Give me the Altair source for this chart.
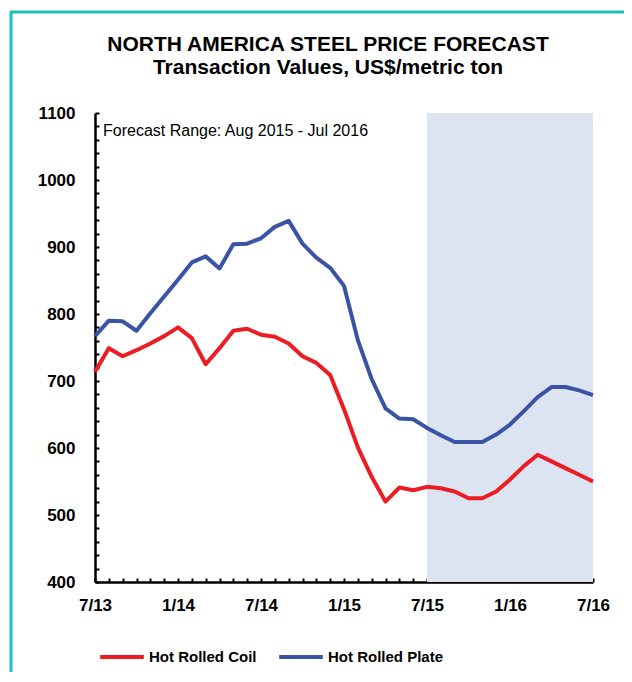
import altair as alt
import pandas as pd
import json

# ---------------- data ----------------
months = list(range(37))  # Jul 2013 .. Jul 2016, monthly index
hot_rolled_coil = [714, 749, 737, 746, 756, 767, 780, 764, 725, 749, 775, 778, 769,
                   766, 756, 737, 727, 709, 658, 601, 557, 520, 541, 537, 542, 540,
                   535, 525, 525, 535, 553, 573, 590, 580, 570, 560, 550]
hot_rolled_plate = [767, 790, 789, 775, 801, 826, 851, 877, 886, 868, 904, 905, 913,
                    930, 939, 905, 884, 869, 842, 761, 703, 659, 644, 643, 630, 619,
                    609, 609, 609, 620, 635, 655, 676, 691, 691, 686, 679]
series_names = ["Hot Rolled Coil", "Hot Rolled Plate"]
tick_labels = ["7/13", "1/14", "7/14", "1/15", "7/15", "1/16", "7/16"]
label_months = [0, 6, 12, 18, 24, 30, 36]
forecast_start, forecast_end = 24, 36
y_ticks = [400, 500, 600, 700, 800, 900, 1000, 1100]
y_minor = list(range(400, 1101, 20))
title_line1 = "NORTH AMERICA STEEL PRICE FORECAST"
title_line2 = "Transaction Values, US$/metric ton"
note_text = "Forecast Range: Aug 2015 - Jul 2016"

# ---------------- styling ----------------
W, H = 498, 469
FONT = "Liberation Sans"
RED, BLUE, SHADE, TEAL = "#ED1C24", "#3A53A4", "#DCE4F1", "#1CC0B8"

df = pd.DataFrame({
    "month": months * 2,
    "value": hot_rolled_coil + hot_rolled_plate,
    "series": [series_names[0]] * len(months) + [series_names[1]] * len(months),
})
fc = pd.DataFrame({"start": [forecast_start], "end": [forecast_end]})

xscale = alt.Scale(domain=[0, 36], nice=False, zero=False)
yscale = alt.Scale(domain=[400, 1100], nice=False, zero=False)

label_expr = json.dumps(tick_labels) + "[round(datum.value/6)]"

shade = alt.Chart(fc).mark_rect(color=SHADE).encode(
    x=alt.X("start:Q", scale=xscale, title=None,
            axis=alt.Axis(orient="bottom", values=label_months, labelExpr=label_expr,
                          ticks=False, domain=True, domainColor="black", domainWidth=2.5,
                          labelFont=FONT, labelFontSize=17, labelFontWeight="bold",
                          labelColor="black", labelPadding=15, labelFlush=False,
                          grid=False)),
    x2="end:Q",
    y=alt.value(0),
    y2=alt.value(H),
)

lines = alt.Chart(df).mark_line(strokeWidth=4, strokeJoin="round").encode(
    x=alt.X("month:Q", scale=xscale, title=None,
            axis=alt.Axis(orient="top", offset=-H, values=months, labels=False,
                          domain=False, ticks=True, tickColor="black", tickWidth=2,
                          tickSize=4, grid=False)),
    y=alt.Y("value:Q", scale=yscale, title=None,
            axis=alt.Axis(orient="left", values=y_ticks, format="d", ticks=False,
                          domain=True, domainColor="black", domainWidth=2.5,
                          labelFont=FONT, labelFontSize=17, labelFontWeight="bold",
                          labelColor="black", labelPadding=20, labelFlush=False,
                          grid=False)),
    color=alt.Color("series:N", title=None,
                    scale=alt.Scale(domain=series_names, range=[RED, BLUE]),
                    legend=alt.Legend(orient="none", direction="horizontal",
                                      legendX=3, legendY=520, symbolType="stroke",
                                      symbolSize=1900, symbolStrokeWidth=4,
                                      labelFont=FONT, labelFontSize=15,
                                      labelFontWeight="bold", labelColor="black",
                                      labelOffset=3, columnPadding=14, padding=0)),
)

ytick_layer = alt.Chart(df).mark_line(strokeOpacity=0).encode(
    x=alt.X("month:Q", scale=xscale, axis=None),
    y=alt.Y("value:Q", scale=yscale, title=None,
            axis=alt.Axis(orient="right", offset=-W, values=y_minor, labels=False,
                          domain=False, ticks=True, tickColor="black", tickWidth=2,
                          tickSize=4, grid=False)),
    detail="series:N",
)

titles = pd.DataFrame({"t": [title_line1, title_line2], "row": [0, 1]})
title_layer1 = alt.Chart(titles[titles.row == 0]).mark_text(
    font=FONT, fontSize=21, fontWeight="bold", color="black", align="center",
    baseline="middle").encode(x=alt.value(233), y=alt.value(-68), text="t:N")
title_layer2 = alt.Chart(titles[titles.row == 1]).mark_text(
    font=FONT, fontSize=21, fontWeight="bold", color="black", align="center",
    baseline="middle").encode(x=alt.value(233), y=alt.value(-45), text="t:N")

note = alt.Chart(pd.DataFrame({"t": [note_text]})).mark_text(
    font=FONT, fontSize=16, color="black", align="left", baseline="middle"
).encode(x=alt.value(8), y=alt.value(18), text="t:N")

border_df = pd.DataFrame({"k": [0]})
border_left = alt.Chart(border_df).mark_rule(color=TEAL, strokeWidth=3).encode(
    x=alt.value(-84), y=alt.value(-102), y2=alt.value(580))
border_top = alt.Chart(border_df).mark_rule(color=TEAL, strokeWidth=3).encode(
    x=alt.value(-85), x2=alt.value(540), y=alt.value(-101))

chart = alt.layer(
    shade, lines, ytick_layer, title_layer1, title_layer2, note, border_left, border_top
).resolve_axis(x="independent", y="independent").properties(
    width=W, height=H,
    autosize=alt.AutoSizeParams(type="none"),
    padding={"left": 87, "top": 105, "right": 31, "bottom": 90},
    background="white",
).configure_view(stroke=None)

chart.save("out.html", embed_options={"renderer": "svg", "actions": False})
